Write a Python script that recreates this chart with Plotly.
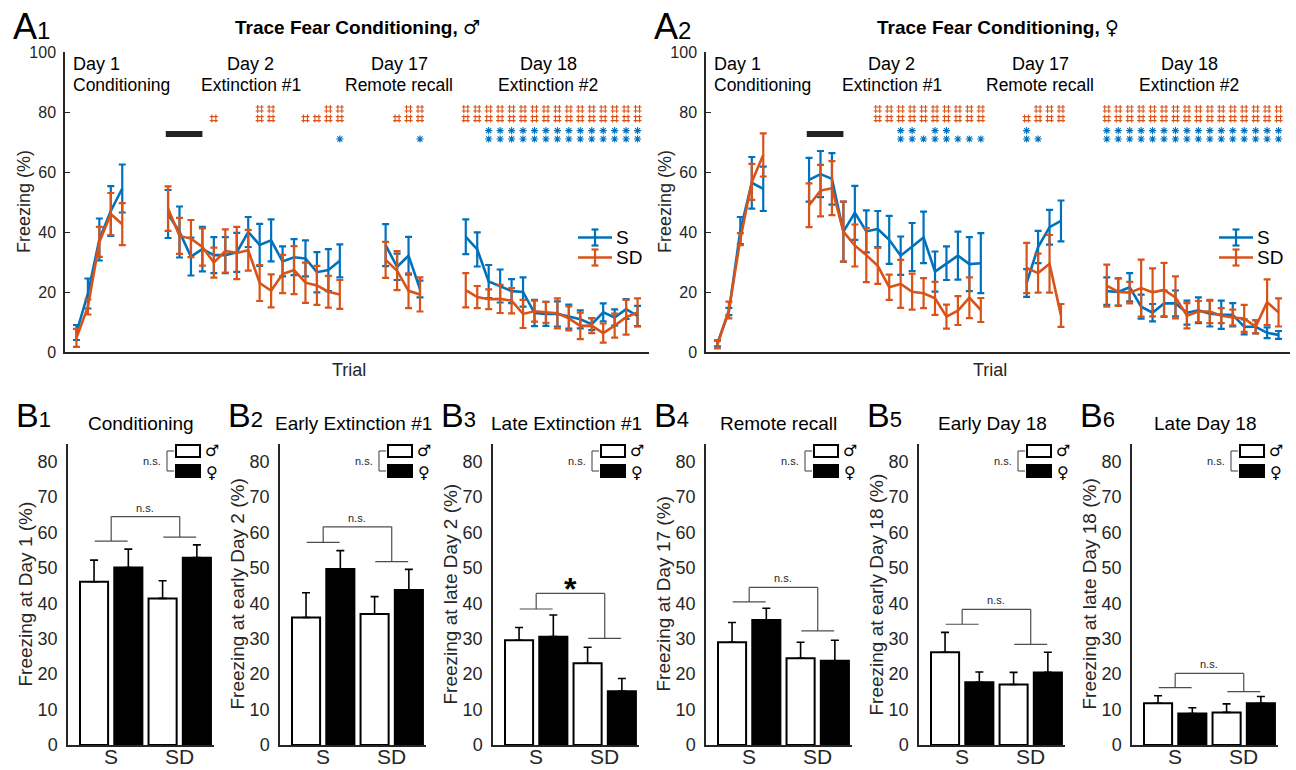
import plotly.graph_objects as go

W, H = 1296, 770
FONT = "Liberation Sans, Arial, Helvetica, sans-serif"
AX = "#262626"
BLUE = "#0072BD"
ORANGE = "#D95319"

# ---------------- Data (A panels: mean freezing % and SEM per trial) ----------------
day_names = ["Day 1", "Day 2", "Day 17", "Day 18"]
day_subtitles = ["Conditioning", "Extinction #1", "Remote recall", "Extinction #2"]
n_trials = [5, 16, 4, 16]

a1_s_mean = [6.5, 19.5, 37.5, 47, 54.5,
             46, 40, 31.8, 34.3, 32.3, 32.3, 33.2, 40, 35.7, 37.2, 30.2, 31.6, 31.2, 26.6, 27.3, 30.4,
             35.6, 28.4, 32.1, 21,
             38.4, 34.2, 23.5, 22, 20.3, 20, 13, 12.7, 12.7, 11.8, 10.9, 9.3, 13.2, 11.5, 14.3, 12]
a1_s_sem = [2.5, 5, 7, 8.3, 8,
            8, 8.5, 6.3, 7.4, 6, 6, 6.5, 5, 7, 7, 5, 6, 6, 6.7, 7, 5.5,
            7, 4.4, 6.3, 2.8,
            5.8, 5.7, 5.5, 5.5, 4, 4.9, 4.4, 4, 4.2, 4, 3, 2, 3, 2.7, 3.3, 3.4]
a1_sd_mean = [4.7, 15, 36.7, 46, 42.6,
              47.8, 38.7, 37.8, 35, 29.8, 33.7, 33, 33.9, 23, 20.4, 26, 27.3, 23.1, 22.2, 20.1, 19.2,
              30.7, 27.1, 20.4, 19.2,
              20.6, 18.3, 17.6, 17.7, 17.1, 12.7, 13.6, 13.2, 12.9, 11.2, 8.7, 8.8, 6.3, 8.8, 11.6, 13.2]
a1_sd_sem = [3, 2.5, 5, 7, 7,
             7.4, 6, 6.2, 6.2, 5, 7.2, 8.7, 6.8, 6, 5.5, 6.4, 8, 6.7, 6.5, 5.3, 4.8,
             6, 6.5, 5.8, 5.7,
             5.7, 3.7, 3.3, 4.7, 4.2, 4.7, 3.5, 3.5, 5, 4, 4.4, 2.5, 3.2, 4, 5.8, 4.7]

a2_s_mean = [2.9, 13.5, 40.5, 56.4, 54.4,
             57.4, 59.3, 57.7, 40.1, 46.4, 40.2, 41, 37.4, 32.1, 35, 38.2, 26.8, 29.6, 32.1, 29.3, 29.6,
             23, 35, 41.6, 43.7,
             20.3, 20, 21.6, 15.1, 13.1, 16.2, 16.2, 13.1, 13.9, 12.8, 12.4, 12.4, 8.4, 8.4, 6.4, 5.7]
a2_s_sem = [1, 1.2, 4.5, 8.6, 7.4,
            7.3, 7.7, 8.6, 10, 9, 7, 6, 8, 6.4, 8, 8.6, 6.7, 5.6, 8, 9, 10,
            4.6, 5.4, 5.8, 6.8,
            4.6, 4.5, 4.7, 4, 2.9, 4.3, 4.3, 4, 4.3, 4.3, 4.7, 3.9, 2.5, 2.2, 1.8, 1.3]
a2_sd_mean = [2.5, 14, 37.6, 56.7, 65.7,
              48.9, 53.8, 54.6, 40.1, 35.5, 32.3, 28.7, 21.6, 22.7, 20.1, 19.6, 17.9, 11.8, 13.8, 18.1, 14,
              28, 26.3, 29.4, 12.2,
              22.1, 20, 19.8, 21.3, 19.9, 20.7, 18.2, 12.1, 13.5, 13.5, 12.1, 11.5, 11.2, 8.4, 16.6, 13.2]
a2_sd_sem = [1.3, 2.8, 2, 6, 7.2,
             7.3, 8.6, 9, 10, 7, 9, 6, 4.2, 8, 6, 5, 5.5, 4, 4.8, 6.8, 4,
             8.4, 6.5, 9.6, 3.8,
             7, 4.6, 3.6, 9.5, 8, 9, 7, 4.2, 3.5, 3.9, 2.5, 2.6, 4.5, 2.2, 7.6, 4.7]

# significance marks: {day index: [trial numbers within day]}
ALL16 = [1, 2, 3, 4, 5, 6, 7, 8, 9, 10, 11, 12, 13, 14, 15, 16]
a1_hash_top = {1: [9, 10, 15, 16], 2: [3, 4], 3: ALL16}
a1_hash_bot = {1: [5, 9, 10, 13, 14, 15, 16], 2: [2, 3, 4], 3: ALL16}
a1_star_top = {3: [3, 4, 5, 6, 7, 8, 9, 10, 11, 12, 13, 14, 15, 16]}
a1_star_bot = {1: [16], 2: [4], 3: [3, 4, 5, 6, 7, 8, 9, 10, 11, 12, 13, 14, 15, 16]}
a2_hash_top = {1: [7, 8, 9, 10, 11, 12, 13, 14, 15, 16], 2: [2, 3, 4], 3: ALL16}
a2_hash_bot = {1: [7, 8, 9, 10, 11, 12, 13, 14, 15, 16], 2: [1, 2, 3, 4], 3: ALL16}
a2_star_top = {1: [9, 10, 12, 13], 2: [1], 3: ALL16}
a2_star_bot = {1: [9, 10, 11, 12, 13, 14, 15, 16], 2: [1, 2], 3: ALL16}

# ---------------- Data (B panels) ----------------
b_titles = ["Conditioning", "Early Extinction #1", "Late Extinction #1",
            "Remote recall", "Early Day 18", "Late Day 18"]
b_ylabels = ["Freezing at Day 1 (%)", "Freezing at early Day 2 (%)", "Freezing at late Day 2 (%)",
             "Freezing at Day 17 (%)", "Freezing at early Day 18 (%)", "Freezing at late Day 18 (%)"]
b_groups = ["S", "SD"]
# [S, SD] for males (white) and females (black)
b_male_mean = [[46.1, 41.4], [36.0, 37.0], [29.6, 23.1], [29.0, 24.5], [26.2, 17.1], [11.8, 9.2]]
b_male_sem = [[6.1, 5.0], [7.0, 4.9], [3.6, 4.5], [5.6, 4.5], [5.6, 3.4], [2.1, 2.4]]
b_female_mean = [[50.1, 52.9], [49.7, 43.8], [30.6, 15.2], [35.3, 23.8], [17.7, 20.5], [8.9, 11.8]]
b_female_sem = [[5.2, 3.6], [5.2, 5.8], [6.1, 3.6], [3.3, 5.8], [2.9, 5.7], [1.6, 1.9]]
# comparison bracket heights: S line, SD line, top line ; label
b_bracket_s = [57.6, 57.2, 38.4, 40.4, 34.1, 16.2]
b_bracket_sd = [58.7, 51.8, 30.1, 32.2, 28.4, 15.1]
b_bracket_top = [64.5, 61.6, 42.8, 44.5, 38.3, 20.2]
b_bracket_label = ["n.s.", "n.s.", "*", "n.s.", "n.s.", "n.s."]

# ---------------- Layout constants ----------------
day_start = [0, 8, 27, 34]
A_left = [65, 706]
A_w = 584
A_top, A_bot = 52, 352
B_left = [68, 280, 493, 706, 919, 1132]
B_w = 146
B_top, B_bot = 444, 745
group_pos = [1.5, 3.5]


def px(x):
    return x / W


def py(y):
    return 1 - y / H


def split(vals):
    assert len(vals) == sum(n_trials)
    out, i = [], 0
    for n in n_trials:
        out.append(vals[i:i + n])
        i += n
    return out


fig = go.Figure()
layout = dict(width=W, height=H, margin=dict(l=0, r=0, t=0, b=0, pad=0, autoexpand=False),
              paper_bgcolor="white", plot_bgcolor="white", showlegend=False,
              barmode="overlay", font=dict(family=FONT, color=AX))
shapes = []
annotations = []

# ---------------- A panels ----------------
A_sets = [
    (a1_s_mean, a1_s_sem, a1_sd_mean, a1_sd_sem, a1_hash_top, a1_hash_bot, a1_star_top, a1_star_bot,
     "Trace Fear Conditioning,", "\u2642", "1"),
    (a2_s_mean, a2_s_sem, a2_sd_mean, a2_sd_sem, a2_hash_top, a2_hash_bot, a2_star_top, a2_star_bot,
     "Trace Fear Conditioning,", "\u2640", "2"),
]

for k, (sm, ss, dm, ds, ht, hb, st, sb, title, sym, num) in enumerate(A_sets):
    xa = "x" if k == 0 else "x2"
    ya = "y" if k == 0 else "y2"
    xkey = "xaxis" if k == 0 else "xaxis2"
    ykey = "yaxis" if k == 0 else "yaxis2"
    x0 = A_left[k]
    layout[xkey] = dict(domain=[px(x0), px(x0 + A_w)], range=[-1, 50], anchor=ya,
                        showline=True, linecolor=AX, linewidth=1.5, ticks="",
                        showticklabels=False, showgrid=False, zeroline=False, automargin=False)
    layout[ykey] = dict(domain=[py(A_bot), py(A_top)], range=[0, 100], anchor=xa,
                        tickvals=[0, 20, 40, 60, 80, 100], ticks="inside", ticklen=5,
                        tickwidth=1.2, tickcolor=AX, showline=True, linecolor=AX, linewidth=1.5,
                        tickfont=dict(size=16, color=AX), showgrid=False, zeroline=False,
                        ticklabelstandoff=4, automargin=False)
    for means, sems, color in [(sm, ss, BLUE), (dm, ds, ORANGE)]:
        mm = split(means)
        ee = split(sems)
        for d in range(4):
            xs = [day_start[d] + t for t in range(n_trials[d])]
            fig.add_trace(go.Scatter(
                x=xs, y=mm[d], mode="lines", xaxis=xa, yaxis=ya,
                line=dict(color=color, width=2.6),
                error_y=dict(type="data", array=ee[d], color=color, thickness=2.2, width=3.5),
                hoverinfo="skip", showlegend=False))
    # significance rows (drawn as marker glyphs)
    for rows, yv, sym_m, color, size, lw in [(ht, 81.0, "hash-open", ORANGE, 8, 1.1),
                                            (hb, 77.8, "hash-open", ORANGE, 8, 1.1),
                                            (st, 73.8, "asterisk-open", BLUE, 6, 1.1),
                                            (sb, 71.0, "asterisk-open", BLUE, 6, 1.1)]:
        xs = []
        for d, trials in rows.items():
            xs += [day_start[d] + t - 1 for t in trials]
        fig.add_trace(go.Scatter(x=xs, y=[yv] * len(xs), mode="markers",
                                 marker=dict(symbol=sym_m, size=size, color=color,
                                             line=dict(color=color, width=lw)),
                                 xaxis=xa, yaxis=ya, hoverinfo="skip", showlegend=False))
    # black bar (early extinction)
    shapes.append(dict(type="line", xref=xa, yref=ya, x0=7.8, x1=11.0, y0=72.7, y1=72.7,
                       line=dict(color="#222222", width=6)))
    # day labels
    for d in range(4):
        if d == 0:
            annotations.append(dict(x=px(x0 + 6), y=py(64), xref="paper", yref="paper",
                                    text=day_names[d], showarrow=False, xanchor="left",
                                    yanchor="middle", font=dict(size=18, color="black")))
            annotations.append(dict(x=px(x0 + 6), y=py(85), xref="paper", yref="paper",
                                    text=day_subtitles[d], showarrow=False, xanchor="left",
                                    yanchor="middle", font=dict(size=17.5, color="black")))
        else:
            cx = day_start[d] + (n_trials[d] - 1) / 2 - 0.3
            annotations.append(dict(x=cx, y=py(64), xref=xa, yref="paper", text=day_names[d],
                                    showarrow=False, xanchor="center", yanchor="middle",
                                    font=dict(size=18, color="black")))
            annotations.append(dict(x=cx, y=py(85), xref=xa, yref="paper", text=day_subtitles[d],
                                    showarrow=False, xanchor="center", yanchor="middle",
                                    font=dict(size=17.5, color="black")))
    # title & panel letter
    annotations.append(dict(x=px(x0 + A_w / 2), y=py(27), xref="paper", yref="paper",
                            text="<b>" + title + "</b> <span style='font-family:DejaVu Sans;"
                                 "font-size:19px'>" + sym + "</span>",
                            showarrow=False, xanchor="center", yanchor="middle",
                            font=dict(size=19, color="black")))
    annotations.append(dict(x=px(x0 - 54), y=py(27), xref="paper", yref="paper",
                            text="A<span style='font-size:24px'>" + num + "</span>",
                            showarrow=False, xanchor="left", yanchor="middle",
                            font=dict(size=36, color="black")))
    # axis titles
    annotations.append(dict(x=px(x0 - 41), y=py((A_top + A_bot) / 2), xref="paper", yref="paper",
                            text="Freezing (%)", textangle=-90, showarrow=False,
                            xanchor="center", yanchor="middle", font=dict(size=18, color=AX)))
    annotations.append(dict(x=px(x0 + A_w / 2 - 8), y=py(370), xref="paper", yref="paper",
                            text="Trial", showarrow=False, xanchor="center", yanchor="middle",
                            font=dict(size=18, color=AX)))
    # legend
    for name, color, ly in [("S", BLUE, 237.5), ("SD", ORANGE, 257.5)]:
        lx0, lx1, lxm = x0 + 513, x0 + 547, x0 + 530
        shapes.append(dict(type="line", xref="paper", yref="paper", x0=px(lx0), x1=px(lx1),
                           y0=py(ly), y1=py(ly), line=dict(color=color, width=2.6)))
        shapes.append(dict(type="line", xref="paper", yref="paper", x0=px(lxm), x1=px(lxm),
                           y0=py(ly - 8), y1=py(ly + 8), line=dict(color=color, width=2.2)))
        for cy in (ly - 8, ly + 8):
            shapes.append(dict(type="line", xref="paper", yref="paper", x0=px(lxm - 3.5),
                               x1=px(lxm + 3.5), y0=py(cy), y1=py(cy),
                               line=dict(color=color, width=2.2)))
        annotations.append(dict(x=px(lx1 + 2), y=py(ly), xref="paper", yref="paper", text=name,
                                showarrow=False, xanchor="left", yanchor="middle",
                                font=dict(size=19, color="black")))

# ---------------- B panels ----------------
for i in range(6):
    n = i + 3
    xa, ya = "x%d" % n, "y%d" % n
    x0 = B_left[i]
    layout["xaxis%d" % n] = dict(domain=[px(x0), px(x0 + B_w)], range=[0.24, 4.5], anchor=ya,
                                 showticklabels=False, ticks="",
                                 showline=True, linecolor=AX, linewidth=1.5,
                                 showgrid=False, zeroline=False, automargin=False)
    layout["yaxis%d" % n] = dict(domain=[py(B_bot), py(B_top)], range=[0, 85], anchor=xa,
                                 tickvals=[0, 10, 20, 30, 40, 50, 60, 70, 80], ticks="",
                                 showline=True, linecolor=AX, linewidth=1.5,
                                 tickfont=dict(size=18, color=AX), showgrid=False, zeroline=False,
                                 ticklabelstandoff=5, automargin=False)
    fig.add_trace(go.Bar(x=[1, 3], y=b_male_mean[i], width=0.82, xaxis=xa, yaxis=ya,
                         marker=dict(color="white", line=dict(color="black", width=2)),
                         error_y=dict(type="data", symmetric=False, array=b_male_sem[i],
                                      arrayminus=[0, 0], color="black", thickness=1.6, width=4),
                         hoverinfo="skip", showlegend=False))
    fig.add_trace(go.Bar(x=[2, 4], y=b_female_mean[i], width=0.82, xaxis=xa, yaxis=ya,
                         marker=dict(color="black", line=dict(color="black", width=2)),
                         error_y=dict(type="data", symmetric=False, array=b_female_sem[i],
                                      arrayminus=[0, 0], color="black", thickness=1.6, width=4),
                         hoverinfo="skip", showlegend=False))
    # group labels (S / SD) under the axis
    for gp, gname in zip(group_pos, b_groups):
        annotations.append(dict(x=gp, y=py(756), xref=xa, yref="paper", text=gname,
                                showarrow=False, xanchor="center", yanchor="middle",
                                font=dict(size=21, color=AX)))
    # brackets
    bc = "#4d4d4d"
    for (xa0, xa1, yy) in [(1.02, 1.98, b_bracket_s[i]), (3.02, 3.98, b_bracket_sd[i]),
                           (1.5, 3.5, b_bracket_top[i])]:
        shapes.append(dict(type="line", xref=xa, yref=ya, x0=xa0, x1=xa1, y0=yy, y1=yy,
                           line=dict(color=bc, width=1.2)))
    shapes.append(dict(type="line", xref=xa, yref=ya, x0=1.5, x1=1.5, y0=b_bracket_s[i],
                       y1=b_bracket_top[i], line=dict(color=bc, width=1.2)))
    shapes.append(dict(type="line", xref=xa, yref=ya, x0=3.5, x1=3.5, y0=b_bracket_sd[i],
                       y1=b_bracket_top[i], line=dict(color=bc, width=1.2)))
    if b_bracket_label[i] == "*":
        annotations.append(dict(x=2.5, y=b_bracket_top[i] + 1.2, xref=xa, yref=ya,
                                text="<b>*</b>", showarrow=False, xanchor="center",
                                yanchor="middle", font=dict(size=32, color="black")))
    else:
        annotations.append(dict(x=2.5, y=b_bracket_top[i], xref=xa, yref=ya, yshift=1,
                                text=b_bracket_label[i], showarrow=False, xanchor="center",
                                yanchor="bottom", font=dict(size=11, color=AX)))
    # sex legend
    shapes.append(dict(type="rect", xref="paper", yref="paper", x0=px(x0 + 108), x1=px(x0 + 132),
                       y0=py(457), y1=py(445), fillcolor="white",
                       line=dict(color="black", width=2)))
    shapes.append(dict(type="rect", xref="paper", yref="paper", x0=px(x0 + 108), x1=px(x0 + 132),
                       y0=py(477), y1=py(465), fillcolor="black",
                       line=dict(color="black", width=2)))
    for seg in [(x0 + 99, 451, x0 + 99, 471), (x0 + 99, 451, x0 + 106, 451),
                (x0 + 99, 471, x0 + 106, 471)]:
        shapes.append(dict(type="line", xref="paper", yref="paper", x0=px(seg[0]), y0=py(seg[1]),
                           x1=px(seg[2]), y1=py(seg[3]), line=dict(color=bc, width=1.1)))
    annotations.append(dict(x=px(x0 + 84), y=py(461), xref="paper", yref="paper", text="n.s.",
                            showarrow=False, xanchor="center", yanchor="middle",
                            font=dict(size=11, color=AX)))
    annotations.append(dict(x=px(x0 + 144), y=py(450), xref="paper", yref="paper", text="\u2642",
                            showarrow=False, xanchor="center", yanchor="middle",
                            font=dict(size=16, color="black", family="DejaVu Sans")))
    annotations.append(dict(x=px(x0 + 144), y=py(472), xref="paper", yref="paper", text="\u2640",
                            showarrow=False, xanchor="center", yanchor="middle",
                            font=dict(size=16, color="black", family="DejaVu Sans")))
    # titles, letters, y label
    annotations.append(dict(x=px(x0 + B_w / 2), y=py(424), xref="paper", yref="paper",
                            text=b_titles[i], showarrow=False, xanchor="center", yanchor="middle",
                            font=dict(size=19, color="black")))
    annotations.append(dict(x=px(x0 - 54), y=py(415), xref="paper", yref="paper",
                            text="B<span style='font-size:22px'>%d</span>" % (i + 1),
                            showarrow=False, xanchor="left", yanchor="middle",
                            font=dict(size=34, color="black")))
    annotations.append(dict(x=px(x0 - 43), y=py((B_top + B_bot) / 2), xref="paper", yref="paper",
                            text=b_ylabels[i], textangle=-90, showarrow=False,
                            xanchor="center", yanchor="middle", font=dict(size=19, color=AX)))

layout["shapes"] = shapes
layout["annotations"] = annotations
fig.update_layout(**layout)
fig.write_html("out.html")
